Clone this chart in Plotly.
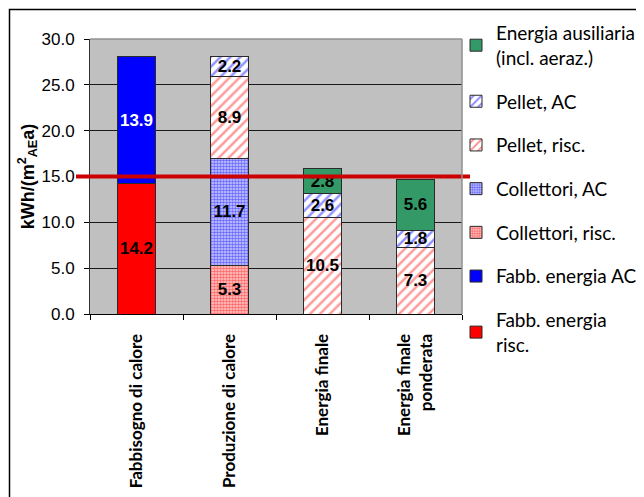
import plotly.graph_objects as go

categories = ["Fabbisogno di calore", "Produzione di calore", "Energia finale", "Energia finale<br>ponderata"]

fabb_risc = [14.2, None, None, None]
fabb_ac = [13.9, None, None, None]
coll_risc = [None, 5.3, None, None]
coll_ac = [None, 11.7, None, None]
pellet_risc = [None, 8.9, 10.5, 7.3]
pellet_ac = [None, 2.2, 2.6, 1.8]
energia_aus = [None, None, 2.8, 5.6]

target = 15.0
y_ticks = [0, 5, 10, 15, 20, 25, 30]

# page body has an 8px margin, so the figure is sized / placed accordingly
OFF = 8
W, H = 644 - OFF, 497 - OFF
L, T = 90 - OFF, 39 - OFF
pw, ph = 372, 275
R, B = W - L - pw, H - T - ph


def px(xpage):
    return (xpage - OFF - L) / pw


def py(ypage):
    return (T + ph - (ypage - OFF)) / ph


fig = go.Figure()


def add_bar(name, vals, color, rank, pattern=None, textcolor="black"):
    mp = dict(shape="")
    if pattern is not None:
        mp = pattern
    fig.add_trace(go.Bar(
        x=categories, y=vals, name=name,
        marker=dict(color=color, line=dict(color="#2a2a2a", width=1), pattern=mp),
        text=[("%.1f" % v) if v is not None else "" for v in vals],
        textposition="inside", insidetextanchor="middle", textangle=0,
        textfont=dict(family="Liberation Sans, Arial", size=17, color=textcolor),
        texttemplate="<b>%{text}</b>",
        legendgroup=name, legendrank=rank,
    ))


add_bar("Fabb. energia<br>risc.", fabb_risc, "#FF0000", 7)
add_bar("Fabb. energia AC", fabb_ac, "#0000FF", 6, textcolor="white")
add_bar("Collettori, risc.", coll_risc, "white", 5,
        dict(shape=".", fgcolor="#FF0000", bgcolor="#FFD0D0", size=3, solidity=0.55))
add_bar("Collettori, AC", coll_ac, "white", 4,
        dict(shape=".", fgcolor="#0000FF", bgcolor="#D0D0FF", size=3, solidity=0.55))
add_bar("Pellet, risc.", pellet_risc, "white", 3,
        dict(shape="/", fgcolor="#FF3030", bgcolor="white", size=7, solidity=0.35))
add_bar("Pellet, AC", pellet_ac, "white", 2,
        dict(shape="/", fgcolor="#2020FF", bgcolor="white", size=7, solidity=0.35))
add_bar("Energia ausiliaria<br>(incl. aeraz.)", energia_aus, "#339966", 1)

# target line
fig.add_shape(type="line", xref="paper", yref="y",
              x0=px(76), x1=px(470), y0=target, y1=target,
              line=dict(color="#CC0000", width=4), layer="above")
# outer border
fig.add_shape(type="rect", xref="paper", yref="paper",
              x0=px(9.5), x1=px(720), y0=py(560), y1=py(9.5),
              line=dict(color="black", width=1.5), layer="below")
# gray plot border top/right
fig.add_shape(type="line", xref="paper", yref="paper", x0=0, x1=1, y0=1, y1=1,
              line=dict(color="#909090", width=1.5))
fig.add_shape(type="line", xref="paper", yref="paper", x0=1, x1=1, y0=0, y1=1,
              line=dict(color="#909090", width=1.5))

fig.update_layout(
    width=W, height=H,
    margin=dict(l=L, r=R, t=T, b=B, autoexpand=False),
    barmode="stack", bargap=0.6,
    paper_bgcolor="white", plot_bgcolor="#C0C0C0",
    uniformtext=dict(minsize=17, mode="show"),
    showlegend=True,
    legend=dict(x=px(456), y=py(14), xanchor="left", yanchor="top",
                traceorder="grouped", tracegroupgap=16, maxheight=1.0,
                font=dict(family="Lato, Open Sans", size=19, color="black"),
                bgcolor="rgba(0,0,0,0)", itemwidth=30),
    font=dict(family="Liberation Sans, Arial", color="black"),
)

fig.update_yaxes(range=[0, 30], tickvals=y_ticks, tickformat=".1f",
                 tickfont=dict(family="Liberation Sans, Arial", size=17),
                 showgrid=True, gridcolor="#1a1a1a", gridwidth=1,
                 ticks="outside", ticklen=5, tickcolor="black", ticklabelstandoff=6,
                 showline=True, linecolor="#303030", linewidth=1, mirror=False,
                 zeroline=False,
                 title=dict(text="<b>kWh/(m<sup>2</sup><sub>AE</sub>a)</b>",
                            font=dict(family="Liberation Sans, Arial", size=18), standoff=2))
fig.update_xaxes(tickangle=-90, tickfont=dict(family="Lato, Open Sans", size=17, weight="bold"),
                 ticks="outside", tickson="boundaries", ticklen=5, tickcolor="black",
                 ticklabelstandoff=12,
                 showline=True, linecolor="black", linewidth=1)

fig.write_html("out.html")
